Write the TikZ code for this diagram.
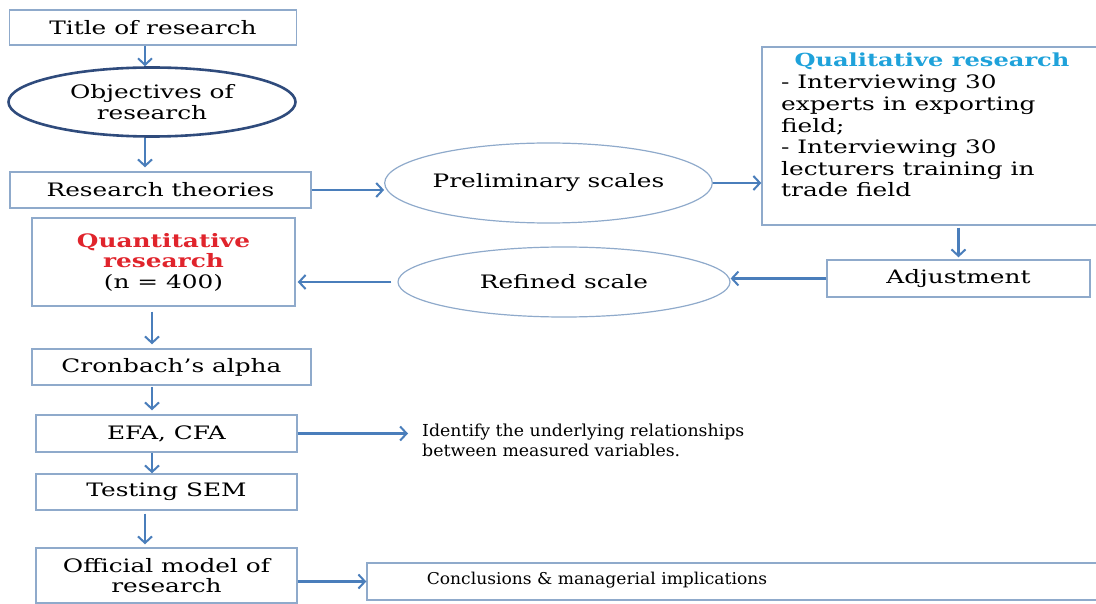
\documentclass[tikz,border=0pt]{standalone}
\usepackage{fontspec}
\setmainfont{DejaVu Serif}[FakeStretch=1.34]
\newfontfamily\plainfont{DejaVu Serif}[FakeStretch=1.05]
\usetikzlibrary{arrows.meta,shapes.geometric}
\definecolor{bordc}{HTML}{8FAACB}
\definecolor{arrc}{HTML}{4A7EBB}
\definecolor{ellc}{HTML}{2F4B7C}
\definecolor{redc}{HTML}{E0242C}
\definecolor{cyanc}{HTML}{1FA2DA}
\begin{document}
\begin{tikzpicture}[x=1pt,y=-1pt,
  bx/.style 2 args={draw=bordc,line width=1.4pt,minimum width=#1,minimum height=#2,inner sep=0pt,align=center,font=\fontsize{18.5}{20.5}\selectfont},
  ell/.style 2 args={ellipse,draw=bordc,line width=1.2pt,minimum width=#1,minimum height=#2,inner sep=0pt,align=center,font=\fontsize{18.5}{20.5}\selectfont},
  arr/.style={draw=arrc,line width=2.2pt,-{Straight Barb[length=6.5pt,width=14pt,line width=2pt]}},
  txt/.style={inner sep=0pt,align=left,font=\fontsize{18.5}{21.6}\selectfont}]
\useasboundingbox (0,0) rectangle (1096,604);
% left column
\node[bx={287pt}{35pt}] (title) at (153,27.5) {Title of research};
\node[ell={287pt}{69pt},draw=ellc,line width=2.6pt] (obj) at (152,102) {Objectives of\\research};
\node[bx={301pt}{36pt}] (theo) at (160.5,190) {Research theories};
\node[bx={263pt}{88pt}] (quant) at (163.5,262) {\textcolor{redc}{\bfseries Quantitative}\\\textcolor{redc}{\bfseries research}\\(n = 400)};
\node[bx={279pt}{36pt}] (cron) at (171.5,367) {Cronbach's alpha};
\node[bx={261pt}{37pt}] (efa) at (166.5,433.5) {EFA, CFA};
\node[bx={261pt}{36pt}] (sem) at (166.5,492) {Testing SEM};
\node[bx={261pt}{55pt}] (off) at (166.5,575.5) {Official model of\\research};
% middle and right
\node[ell={307pt}{80pt}] (pre) at (548.5,183) {Preliminary scales};
\node[ell={332pt}{70pt}] (ref) at (564,282) {Refined scale};
\node[bx={338pt}{178pt}] (qual) at (931,136) {};
\node[txt,anchor=base,font=\fontsize{18}{20}\selectfont\bfseries,text=cyanc] (qualhead) at (932,67) {Qualitative research};
\node[txt,anchor=north west] (qualtext) at (781,75) {- Interviewing 30\\experts in exporting\\field;\\- Interviewing 30\\lecturers training in\\trade field};
\node[bx={263pt}{37pt}] (adj) at (958.5,278.5) {Adjustment};
\node[txt,anchor=west,inner xsep=14pt,font=\plainfont\fontsize{16.5}{20}\selectfont] (iden) at (408,440) {Identify the underlying relationships\\between measured variables.};
\node[bx={733pt}{37pt}] (concl) at (733.5,581.5) {};
\node[inner sep=0pt,font=\plainfont\fontsize{16.3}{20}\selectfont] (concltext) at (597,580) {Conclusions \& managerial implications};
% guide coordinates
\coordinate (xa) at (145,0);
\coordinate (xb) at (152,0);
% connectors
\draw[arr] (title.south -| xa) -- (obj.north -| xa);
\draw[arr,shorten >=4pt] (obj.south -| xa) -- (theo.north -| xa);
\draw[arr] (theo.east) -- (theo.east -| pre.west);
\draw[arr] (pre.east) -- (pre.east -| qual.west);
\draw[arr,shorten <=2pt,shorten >=2pt] (qual.south -| adj.north) -- (adj.north);
\draw[arr] (adj.west) -- (adj.west -| ref.east);
\draw[arr,shorten <=6pt,shorten >=2pt] (ref.west) -- (ref.west -| quant.east);
\draw[arr,shorten <=5pt,shorten >=4pt] (quant.south -| xb) -- (cron.north -| xb);
\draw[arr,shorten <=1pt,shorten >=4pt] (cron.south -| xb) -- (efa.north -| xb);
\draw[arr,shorten >=0pt] (efa.south -| xb) -- (sem.north -| xb);
\draw[arr,shorten <=3pt,shorten >=3pt] (sem.south -| xa) -- (off.north -| xa);
\draw[arr] (efa.east) -- (efa.east -| iden.west);
\draw[arr] (off.east |- concl.west) -- (concl.west);
\end{tikzpicture}
\end{document}
